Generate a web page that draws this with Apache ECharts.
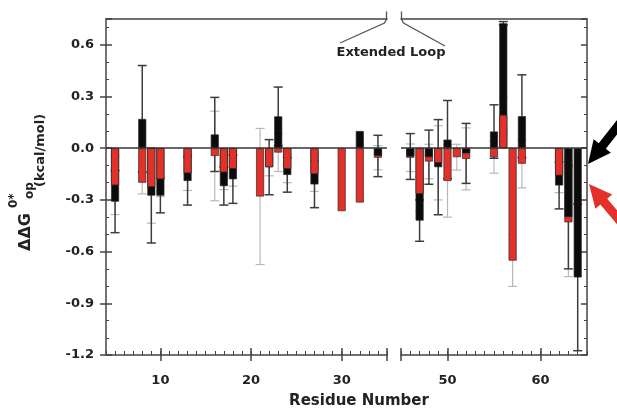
<!DOCTYPE html>
<html>
<head>
<meta charset="utf-8">
<script src="https://cdn.jsdelivr.net/npm/echarts@6/dist/echarts.min.js"></script>
<style>
  html, body { margin: 0; padding: 0; background: #fff; }
  #chart { width: 617px; height: 409px; }
</style>
</head>
<body>
<div id="chart"></div>
<script>
// residues before the extended loop
var residuesA = [5, 8, 9, 10, 13, 16, 17, 18, 21, 22, 23, 24, 27, 30, 32, 34];
var blackA    = [-0.31, 0.17, -0.275, -0.275, -0.19, 0.08, -0.22, -0.18, null, -0.11, 0.185, -0.155, -0.21, null, 0.10, -0.045];
var blackErrA = [0.18, 0.31, 0.275, 0.10, 0.14, 0.215, 0.11, 0.14, null, 0.16, 0.17, 0.10, 0.135, null, null, 0.12];
var redA      = [-0.215, -0.20, -0.225, -0.18, -0.145, -0.045, -0.14, -0.12, -0.28, -0.11, -0.025, -0.12, -0.15, -0.365, -0.315, -0.055];
var redErrA   = [0.17, 0.065, 0.21, 0.10, 0.10, 0.26, 0.10, 0.10, 0.395, 0.05, 0.11, 0.08, 0.10, null, null, 0.07];

// residues after the extended loop
var residuesB = [46, 47, 48, 49, 50, 51, 52, 55, 56, 57, 58, 62, 63, 64];
var blackB    = [-0.048, -0.42, -0.052, -0.11, 0.05, null, -0.03, 0.097, 0.725, null, 0.186, -0.216, -0.40, -0.75];
var blackErrB = [0.133, 0.12, 0.157, 0.276, 0.227, null, 0.174, 0.155, 0.01, null, 0.24, 0.136, 0.30, 0.425];
var redB      = [-0.055, -0.265, -0.077, -0.085, -0.19, -0.052, -0.062, -0.052, 0.194, -0.652, -0.09, -0.158, -0.43, null];
var redErrB   = [0.08, 0.10, 0.10, 0.215, 0.21, 0.075, 0.18, 0.093, 0.10, 0.15, 0.14, 0.10, 0.315, null];

var yTicks = [-1.2, 0.75, 0.3];   // min, max, interval
var xMajorA = [10, 20, 30];
var xMajorB = [50, 60];

var BLACK = '#0b0b0b';
var RED = '#e3312a';
var AXIS = '#4b403b';
var FONT = 'DejaVu Sans';

// the shorter bar of each pair is drawn in front of the longer one
function splitBars(res, blk, red) {
    var back = [], front = [];
    function item(x, v, c) {
        return { value: [x, v], itemStyle: { color: c } };
    }
    for (var i = 0; i < res.length; i++) {
        var b = blk[i], r = red[i];
        if (b == null && r == null) continue;
        if (b == null) { back.push(item(res[i], r, RED)); continue; }
        if (r == null) { back.push(item(res[i], b, BLACK)); continue; }
        if (Math.abs(b) >= Math.abs(r)) {
            back.push(item(res[i], b, BLACK));
            front.push(item(res[i], r, RED));
        } else {
            back.push(item(res[i], r, RED));
            front.push(item(res[i], b, BLACK));
        }
    }
    return { back: back, front: front };
}

function errData(res, vals, errs) {
    var out = [];
    for (var i = 0; i < res.length; i++) {
        if (vals[i] == null || errs[i] == null) continue;
        out.push([res[i], vals[i] - errs[i], vals[i] + errs[i]]);
    }
    return out;
}

function errRender(color, width) {
    return function (params, api) {
        var x = api.value(0);
        var lo = api.coord([x, api.value(1)]);
        var hi = api.coord([x, api.value(2)]);
        var cap = 4.5;
        var st = { stroke: color, lineWidth: width };
        return {
            type: 'group',
            children: [
                { type: 'line', shape: { x1: lo[0], y1: lo[1], x2: hi[0], y2: hi[1] }, style: st },
                { type: 'line', shape: { x1: lo[0] - cap, y1: lo[1], x2: lo[0] + cap, y2: lo[1] }, style: st },
                { type: 'line', shape: { x1: hi[0] - cap, y1: hi[1], x2: hi[0] + cap, y2: hi[1] }, style: st }
            ]
        };
    };
}

function arrowPoints(tip, tail, shaftW, headL, headW) {
    var dx = tail[0] - tip[0], dy = tail[1] - tip[1];
    var len = Math.sqrt(dx * dx + dy * dy);
    var ux = dx / len, uy = dy / len;
    var nx = -uy, ny = ux;
    var bx = tip[0] + ux * headL, by = tip[1] + uy * headL;
    return [
        tip,
        [bx + nx * headW / 2, by + ny * headW / 2],
        [bx + nx * shaftW / 2, by + ny * shaftW / 2],
        [tail[0] + nx * shaftW / 2, tail[1] + ny * shaftW / 2],
        [tail[0] - nx * shaftW / 2, tail[1] - ny * shaftW / 2],
        [bx - nx * shaftW / 2, by - ny * shaftW / 2],
        [bx - nx * headW / 2, by - ny * headW / 2]
    ];
}

var labelStyle = { fontFamily: FONT, fontWeight: 'bold', fontSize: 13, color: '#222' };
var lineStyle = { color: AXIS, width: 1.5 };

function xAxesFor(grid, min, max, majors, ends) {
    return [
        {
            gridIndex: grid, type: 'value', min: min, max: max, position: 'bottom',
            axisLine: { show: true, onZero: false, lineStyle: lineStyle },
            axisTick: { show: true, inside: false, length: 6, customValues: majors.concat(ends), lineStyle: lineStyle },
            axisLabel: Object.assign({ customValues: majors, margin: 19 }, labelStyle),
            splitLine: { show: false }
        },
        {
            gridIndex: grid, type: 'value', min: min, max: max, interval: 1, position: 'bottom',
            axisLine: { show: false, onZero: false },
            axisTick: { show: true, inside: true, length: 4, lineStyle: { color: AXIS, width: 1 } },
            axisLabel: { show: false },
            splitLine: { show: false }
        },
        {
            gridIndex: grid, type: 'value', min: min, max: max, position: 'bottom',
            axisLine: { show: false, onZero: false },
            axisTick: { show: true, inside: true, length: 7, customValues: majors.concat(ends), lineStyle: lineStyle },
            axisLabel: { show: false },
            splitLine: { show: false }
        },
        {
            gridIndex: grid, type: 'value', min: min, max: max, position: 'top',
            axisLine: { show: true, onZero: false, lineStyle: lineStyle },
            axisTick: { show: false },
            axisLabel: { show: false },
            splitLine: { show: false }
        }
    ];
}

var barsA = splitBars(residuesA, blackA, redA);
var barsB = splitBars(residuesB, blackB, redB);

var zeroLine = {
    silent: true,
    symbol: 'none',
    label: { show: false },
    lineStyle: { color: '#333', width: 1.5, type: 'solid' },
    data: [{ yAxis: 0 }]
};

function seriesFor(bars, res, blk, blkErr, red, redErr, xi, yi) {
    var barBorder = { borderColor: '#2a2a2a', borderWidth: 0.7 };
    return [
        {
            type: 'custom', xAxisIndex: xi, yAxisIndex: yi, z: 1,
            renderItem: errRender('#b8b8b8', 1.2),
            encode: { x: 0, y: [1, 2] },
            data: errData(res, red, redErr)
        },
        {
            type: 'custom', xAxisIndex: xi, yAxisIndex: yi, z: 1,
            renderItem: errRender('#3c3c3c', 1.5),
            encode: { x: 0, y: [1, 2] },
            data: errData(res, blk, blkErr)
        },
        {
            type: 'bar', xAxisIndex: xi, yAxisIndex: yi, z: 2,
            barWidth: 8, barGap: '-100%',
            itemStyle: barBorder,
            data: bars.back,
            markLine: zeroLine
        },
        {
            type: 'bar', xAxisIndex: xi, yAxisIndex: yi, z: 3,
            barWidth: 8, barGap: '-100%',
            itemStyle: barBorder,
            data: bars.front
        }
    ];
}

var option = {
    animation: false,
    backgroundColor: '#fff',
    grid: [
        { left: 106, top: 19, width: 281, height: 336 },
        { left: 401, top: 19, width: 186, height: 336 }
    ],
    xAxis: xAxesFor(0, 4, 35, xMajorA, [35]).concat(xAxesFor(1, 45, 65, xMajorB, [45])),
    yAxis: [
        {
            gridIndex: 0, type: 'value', position: 'left',
            min: yTicks[0], max: yTicks[1], interval: yTicks[2],
            axisLine: { show: true, onZero: false, lineStyle: lineStyle },
            axisTick: { show: true, inside: false, length: 6, lineStyle: lineStyle },
            axisLabel: Object.assign({
                showMaxLabel: false, margin: 12,
                formatter: function (v) { return v.toFixed(1); }
            }, labelStyle),
            splitLine: { show: false }
        },
        {
            gridIndex: 0, type: 'value', position: 'left',
            min: yTicks[0], max: yTicks[1], interval: yTicks[2],
            axisLine: { show: false, onZero: false },
            axisTick: { show: true, inside: true, length: 6, lineStyle: lineStyle },
            minorTick: { show: true, splitNumber: 3, length: 3, lineStyle: { color: AXIS, width: 1 } },
            axisLabel: { show: false },
            splitLine: { show: false }
        },
        {
            gridIndex: 1, type: 'value', position: 'right',
            min: yTicks[0], max: yTicks[1], interval: yTicks[2],
            axisLine: { show: true, onZero: false, lineStyle: lineStyle },
            axisTick: { show: true, inside: true, length: 6, lineStyle: lineStyle },
            minorTick: { show: true, splitNumber: 3, length: 3, lineStyle: { color: AXIS, width: 1 } },
            axisLabel: { show: false },
            splitLine: { show: false }
        }
    ],
    series: seriesFor(barsA, residuesA, blackA, blackErrA, redA, redErrA, 0, 0)
        .concat(seriesFor(barsB, residuesB, blackB, blackErrB, redB, redErrB, 4, 2)),
    graphic: [
        // break marks over the missing loop
        { type: 'polyline', shape: { points: [[386.5, 11.5], [386.5, 19], [384.5, 23], [340, 43]] },
          style: { stroke: '#555', lineWidth: 1.3, fill: null } },
        { type: 'polyline', shape: { points: [[401.5, 11.5], [401.5, 19], [403.5, 23], [445, 46]] },
          style: { stroke: '#555', lineWidth: 1.3, fill: null } },
        { type: 'text', x: 391, y: 53,
          style: { text: 'Extended Loop', font: 'bold 13px "DejaVu Sans"', fill: '#222', textAlign: 'center', textVerticalAlign: 'middle' } },
        { type: 'text', x: 359, y: 401,
          style: { text: 'Residue Number', font: 'bold 15px "DejaVu Sans"', fill: '#222', textAlign: 'center', textVerticalAlign: 'middle' } },
        // y axis title, rotated
        { type: 'text', x: 26, y: 251, rotation: Math.PI / 2,
          style: { text: 'ΔΔG', font: 'bold 16px "DejaVu Sans"', fill: '#222', textAlign: 'left', textVerticalAlign: 'middle' } },
        { type: 'text', x: 30, y: 199, rotation: Math.PI / 2,
          style: { text: 'op', font: 'bold 12px "DejaVu Sans"', fill: '#222', textAlign: 'left', textVerticalAlign: 'middle' } },
        { type: 'text', x: 14, y: 208, rotation: Math.PI / 2,
          style: { text: '0*', font: 'bold 12px "DejaVu Sans"', fill: '#222', textAlign: 'left', textVerticalAlign: 'middle' } },
        { type: 'text', x: 41, y: 187, rotation: Math.PI / 2,
          style: { text: '(kcal/mol)', font: 'bold 13px "DejaVu Sans"', fill: '#222', textAlign: 'left', textVerticalAlign: 'middle' } },
        // pointer arrows on the right
        { type: 'polygon', shape: { points: arrowPoints([588, 164], [626, 116], 9, 23, 22) },
          style: { fill: '#000' } },
        { type: 'polygon', shape: { points: arrowPoints([589, 184], [626, 228], 9, 23, 22) },
          style: { fill: '#e3312a' } }
    ]
};

var myChart = echarts.init(document.getElementById('chart'));
myChart.setOption(option);
</script>
</body>
</html>
